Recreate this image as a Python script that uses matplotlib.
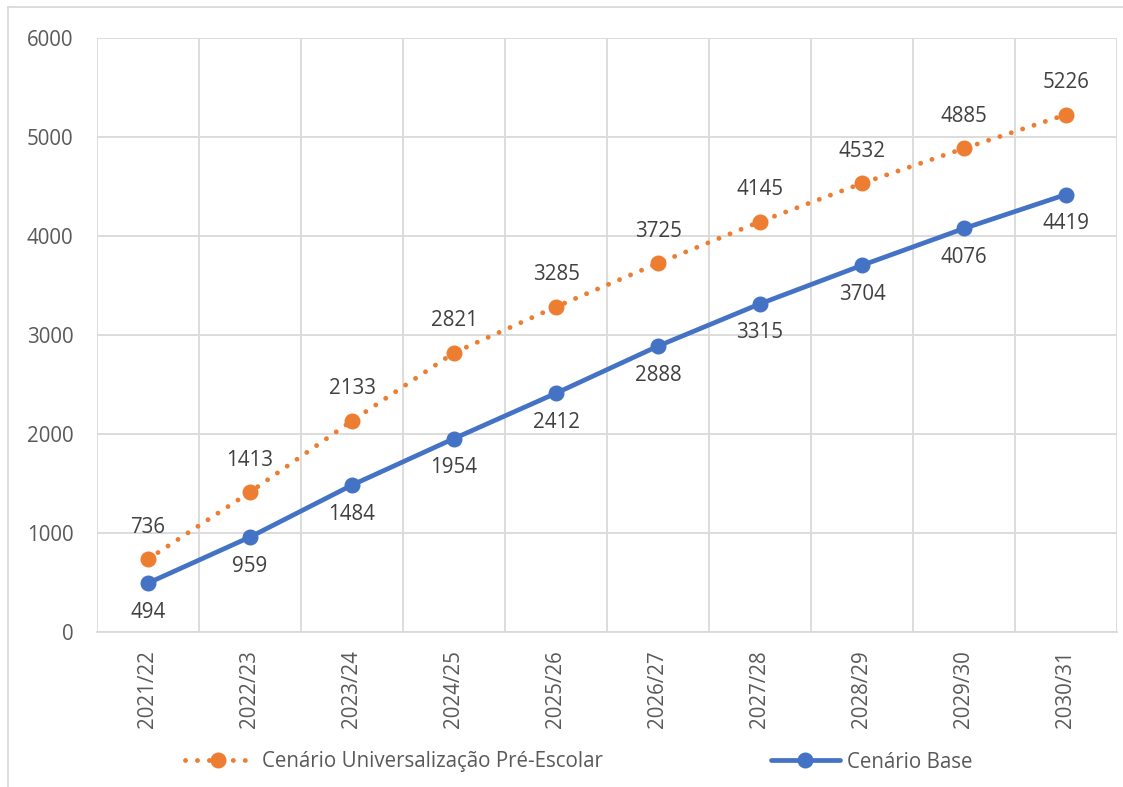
import matplotlib
matplotlib.use("Agg")
import matplotlib.pyplot as plt
from matplotlib.lines import Line2D

plt.rcParams['font.family'] = ['Open Sans', 'DejaVu Sans']

anos = ["2021/22", "2022/23", "2023/24", "2024/25", "2025/26",
        "2026/27", "2027/28", "2028/29", "2029/30", "2030/31"]
universalizacao = [736, 1413, 2133, 2821, 3285, 3725, 4145, 4532, 4885, 5226]
base = [494, 959, 1484, 1954, 2412, 2888, 3315, 3704, 4076, 4419]

laranja = "#ED7D31"
azul = "#4472C4"
cinza = "#595959"
escuro = "#404040"
grelha = "#D9D9D9"
fs = 14.8

estilo_lar = dict(color=laranja, lw=3.5, linestyle=(0, (0.01, 2.45)),
                  dash_capstyle="round", marker="o", markersize=10.5)
estilo_azul = dict(color=azul, lw=3.4, solid_capstyle="round",
                   marker="o", markersize=10.5)

fig = plt.figure(figsize=(11.23, 7.87), dpi=100)
ax = fig.add_axes([97 / 1123, 1 - 632 / 787, 1020 / 1123, 594 / 787])

x = list(range(len(anos)))

ax.plot(x, universalizacao, zorder=3, **estilo_lar)
ax.plot(x, base, zorder=3, **estilo_azul)

for i, v in enumerate(universalizacao):
    ax.annotate(str(v), (i, v), xytext=(0, 23), textcoords="offset points",
                ha="center", va="center", fontsize=fs, color=escuro)
for i, v in enumerate(base):
    ax.annotate(str(v), (i, v), xytext=(0, -21), textcoords="offset points",
                ha="center", va="center", fontsize=fs, color=escuro)

ax.set_xlim(-0.5, len(anos) - 0.5)
ax.set_ylim(0, 6000)
ax.set_yticks(range(0, 6001, 1000))
ax.set_xticks(x)
ax.set_xticklabels(anos, rotation=90, fontsize=fs, color=cinza)
ax.set_xticks([i - 0.5 for i in range(len(anos) + 1)], minor=True)
ax.tick_params(axis="y", labelsize=fs, colors=cinza, length=0, pad=17)
ax.tick_params(axis="x", which="major", length=0, pad=13)
ax.tick_params(axis="x", which="minor", length=0)
ax.grid(axis="y", color=grelha, lw=1.3)
ax.grid(axis="x", which="minor", color=grelha, lw=1.3)
ax.set_axisbelow(True)
for s in ["top", "right", "left"]:
    ax.spines[s].set_visible(False)
ax.spines["bottom"].set_color(grelha)
ax.spines["bottom"].set_linewidth(1.3)

# moldura exterior
fig.add_artist(Line2D([8 / 1123, 8 / 1123], [0, 1 - 7 / 787],
                      transform=fig.transFigure, color=grelha, lw=1.3))
fig.add_artist(Line2D([8 / 1123, 1], [1 - 7 / 787, 1 - 7 / 787],
                      transform=fig.transFigure, color=grelha, lw=1.3))

h1 = Line2D([], [], **estilo_lar)
h2 = Line2D([], [], **estilo_azul)
fig.legend([h1], ["Cenário Universalização Pré-Escolar"], loc="center left",
           bbox_to_anchor=(166 / 1123, 1 - 762 / 787), frameon=False,
           fontsize=fs, labelcolor=cinza, handlelength=3.3, handletextpad=0.45)
fig.legend([h2], ["Cenário Base"], loc="center left",
           bbox_to_anchor=(752 / 1123, 1 - 762 / 787), frameon=False,
           fontsize=fs, labelcolor=cinza, handlelength=3.4, handletextpad=0.3)

fig.savefig("out.png", dpi=100)
